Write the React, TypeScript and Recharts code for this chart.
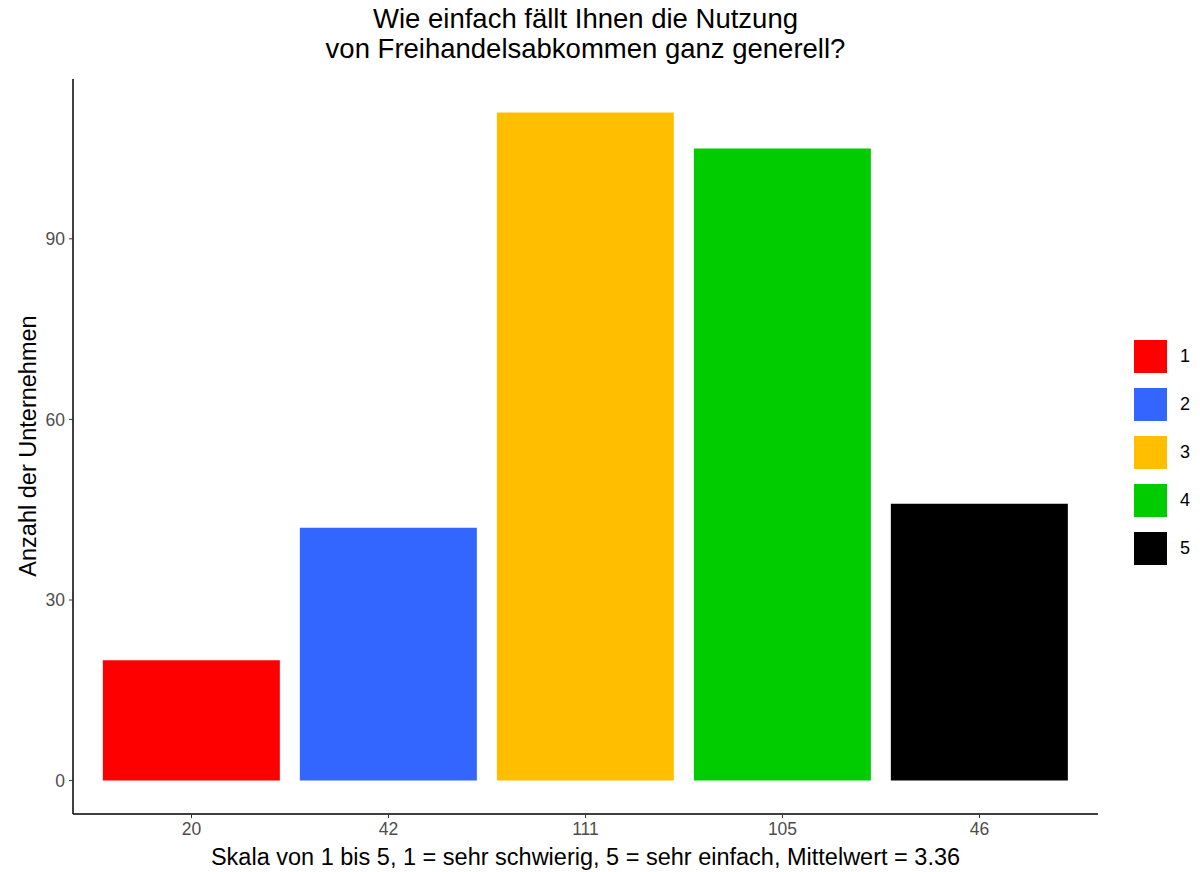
import React from 'react'
import { BarChart, Bar, XAxis, YAxis, Cell } from 'recharts'

const categories = ['20', '42', '111', '105', '46']
const counts = [20, 42, 111, 105, 46]
const legendLabels = ['1', '2', '3', '4', '5']
const colors = ['#FF0000', '#3366FF', '#FFBF00', '#00CC00', '#000000']
const yTicks = [0, 30, 60, 90]

const data = categories.map((c, i) => ({ name: c, value: counts[i], level: legendLabels[i] }))

const font = '"Liberation Sans", Arial, sans-serif'

const LegendBox = () => (
  <div style={{ position: 'absolute', left: 1134, top: 332, fontFamily: font }}>
    {legendLabels.map((l, i) => (
      <div key={l} style={{ display: 'flex', alignItems: 'center', height: 48 }}>
        <div style={{ width: 33, height: 33, background: colors[i] }} />
        <span style={{ marginLeft: 13, fontSize: 18, color: '#000' }}>{l}</span>
      </div>
    ))}
  </div>
)

export default function App() {
  return (
    <div style={{ position: 'absolute', left: 0, top: 0, width: 1200, height: 872, background: '#fff', fontFamily: font }}>
      <div style={{ position: 'absolute', left: 73, width: 1025, top: 4, textAlign: 'center', fontSize: 27.5, lineHeight: '30px', color: '#000' }}>
        Wie einfach fällt Ihnen die Nutzung<br />von Freihandelsabkommen ganz generell?
      </div>
      <BarChart
        width={1200}
        height={872}
        data={data}
        margin={{ top: 79, right: 102, bottom: 28, left: 0 }}
        barCategoryGap="5%"
      >
        <XAxis
          dataKey="name"
          padding={{ left: 20, right: 20 }}
          height={30}
          tickSize={4}
          tickMargin={5}
          axisLine={{ stroke: '#000', strokeWidth: 1.5 }}
          tickLine={{ stroke: '#333' }}
          tick={{ fill: '#4d4d4d', fontSize: 17.5, fontFamily: font }}
        />
        <YAxis
          width={73}
          domain={[-5.55, 116.55]}
          ticks={yTicks}
          allowDataOverflow
          tickSize={4}
          tickMargin={4}
          axisLine={{ stroke: '#000', strokeWidth: 1.5 }}
          tickLine={{ stroke: '#333' }}
          tick={{ fill: '#4d4d4d', fontSize: 17.5, fontFamily: font }}
        />
        <Bar dataKey="value" isAnimationActive={false}>
          {data.map((d, i) => (
            <Cell key={d.name} fill={colors[i]} />
          ))}
        </Bar>
      </BarChart>
      <LegendBox />
      <div style={{ position: 'absolute', left: 73, width: 1025, top: 844, textAlign: 'center', fontSize: 23.5, lineHeight: '26px', color: '#000' }}>
        Skala von 1 bis 5, 1 = sehr schwierig, 5 = sehr einfach, Mittelwert = 3.36
      </div>
      <div style={{ position: 'absolute', left: 28, top: 446, width: 0, height: 0 }}>
        <div style={{ position: 'absolute', transform: 'translate(-50%, -50%) rotate(-90deg)', whiteSpace: 'nowrap', fontSize: 23.5, color: '#000' }}>
          Anzahl der Unternehmen
        </div>
      </div>
    </div>
  )
}
